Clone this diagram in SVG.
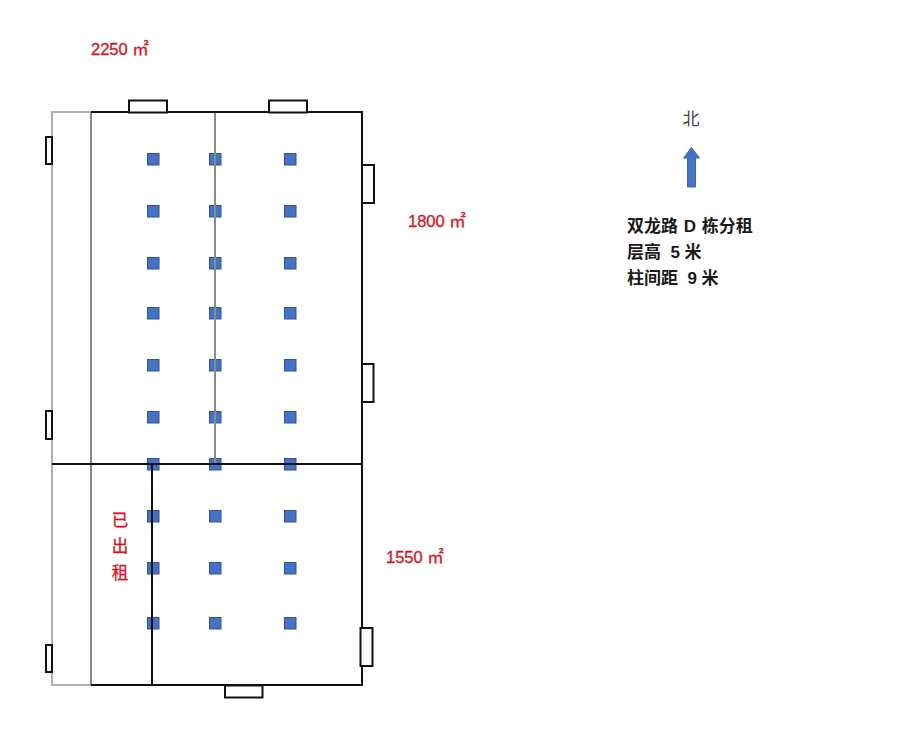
<svg xmlns="http://www.w3.org/2000/svg" width="903" height="744" viewBox="0 0 903 744">
<defs>
<style>
text{font-family:"Liberation Sans","Noto Sans CJK SC",sans-serif}
.red{fill:#e0101f;font-size:16.500px;stroke:#e0101f;stroke-width:.3px}
.blk{fill:#1a1a1a;font-size:17px;font-weight:700}
.wall{stroke:#111;stroke-width:2;fill:none}
.lg{stroke:#b0b0b0;stroke-width:2;fill:none}
.mg{stroke:#8a8a8a;stroke-width:2;fill:none}
.door{stroke:#111;stroke-width:2;fill:#fff}
.col{fill:#4472c4;stroke:#2f5597;stroke-width:1}
</style>
<rect id="c" class="col" x="-5.500" y="-5.500" width="11.500" height="11.500"/>
</defs>
<rect width="903" height="744" fill="#fff"/>
<g id="columns">
<use href="#c" x="153" y="159"/><use href="#c" x="215" y="159"/><use href="#c" x="290" y="159"/>
<use href="#c" x="153" y="211"/><use href="#c" x="215" y="211"/><use href="#c" x="290" y="211"/>
<use href="#c" x="153" y="263"/><use href="#c" x="215" y="263"/><use href="#c" x="290" y="263"/>
<use href="#c" x="153" y="313"/><use href="#c" x="215" y="313"/><use href="#c" x="290" y="313"/>
<use href="#c" x="153" y="365"/><use href="#c" x="215" y="365"/><use href="#c" x="290" y="365"/>
<use href="#c" x="153" y="417"/><use href="#c" x="215" y="417"/><use href="#c" x="290" y="417"/>
<use href="#c" x="153" y="464"/><use href="#c" x="215" y="464"/><use href="#c" x="290" y="464"/>
<use href="#c" x="153" y="516"/><use href="#c" x="215" y="516"/><use href="#c" x="290" y="516"/>
<use href="#c" x="153" y="568"/><use href="#c" x="215" y="568"/><use href="#c" x="290" y="568"/>
<use href="#c" x="153" y="623"/><use href="#c" x="215" y="623"/><use href="#c" x="290" y="623"/>
</g>
<g id="walls">
<path class="lg" d="M91 112H52V685H91"/>
<path class="mg" d="M91 112V685M215 112V464"/>
<path class="wall" d="M91 112H362V685H91M52 464H362M152 464V685"/>
</g>
<g id="doors">
<rect class="door" x="129" y="100.500" width="38" height="12"/>
<rect class="door" x="269" y="100.500" width="38" height="12"/>
<rect class="door" x="362" y="165" width="12" height="38"/>
<rect class="door" x="362" y="364" width="11.500" height="38"/>
<rect class="door" x="360.500" y="628" width="12" height="38"/>
<rect class="door" x="225" y="685.500" width="37.500" height="12"/>
<rect class="door" x="46" y="137" width="6" height="27"/>
<rect class="door" x="46" y="411" width="6" height="28"/>
<rect class="door" x="46" y="645" width="6" height="27"/>
</g>
<g id="north">
<text x="691" y="125" font-size="17" fill="#444" text-anchor="middle">北</text>
<path d="M691.500 147.500L699.500 158H695.500V187H687.500V158H683.500Z" fill="#4472c4" stroke="#3a66b0" stroke-width="1"/>
</g>
<g id="labels">
<text class="red" x="91" y="54.500">2250 ㎡</text>
<text class="red" x="408" y="226.500">1800 ㎡</text>
<text class="red" x="386" y="562.500">1550 ㎡</text>
<text class="red" x="120" y="526" text-anchor="middle">已</text>
<text class="red" x="120" y="552" text-anchor="middle">出</text>
<text class="red" x="120" y="579" text-anchor="middle">租</text>
<text class="blk" x="627" y="232" word-spacing="1">双龙路 D 栋分租</text>
<text class="blk" x="627" y="258" xml:space="preserve">层高  5 米</text>
<text class="blk" x="627" y="284" xml:space="preserve">柱间距  9 米</text>
</g>
</svg>
